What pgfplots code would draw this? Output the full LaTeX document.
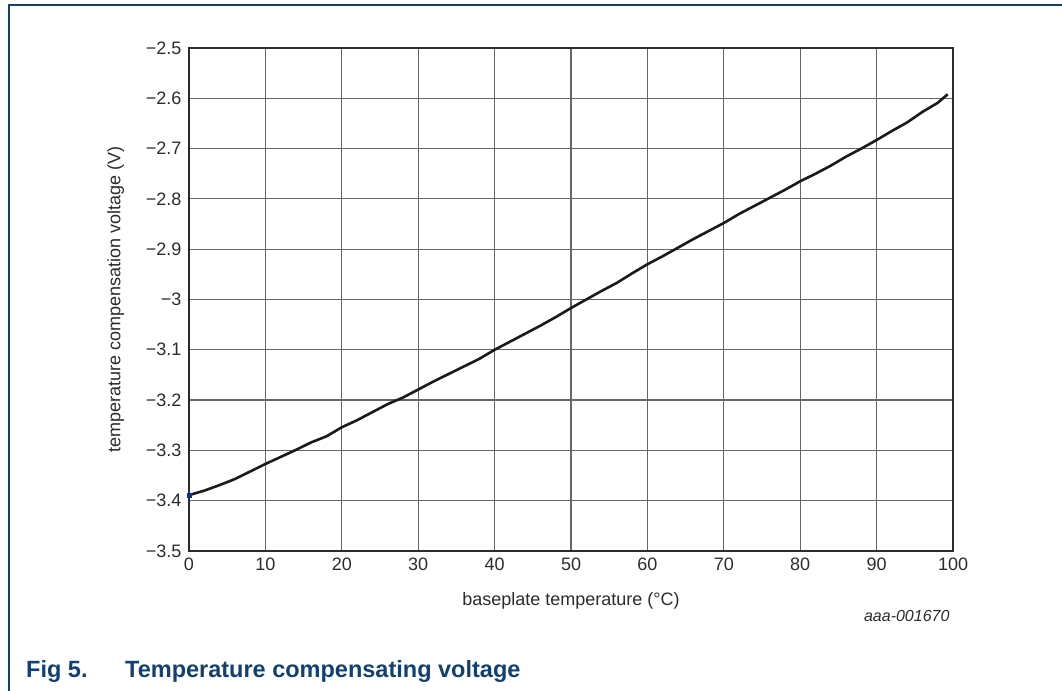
\documentclass[border=0pt]{standalone}
\usepackage{fontspec}
\setmainfont{Liberation Sans}
\usepackage{pgfplots}
\pgfplotsset{compat=1.18}

\definecolor{nxpblue}{HTML}{12406F}
\definecolor{ink}{HTML}{2B2B2B}
\definecolor{gridc}{HTML}{666666}

\begin{document}
\begin{tikzpicture}[x=1bp,y=1bp]
\useasboundingbox (0,0) rectangle (1062,691);
% outer frame (top and left only)
\draw[nxpblue, line width=1.4bp] (9,0) -- (9,686) -- (1062,686);

\begin{axis}[
    at={(189bp,140bp)}, anchor=south west,
    scale only axis, width=764bp, height=503bp,
    xmin=0, xmax=100, ymin=-3.5, ymax=-2.5,
    xtick={0,10,...,100},
    xticklabels={0,10,20,30,40,50,60,70,80,90,100},
    ytick={-3.5,-3.4,-3.3,-3.2,-3.1,-3,-2.9,-2.8,-2.7,-2.6,-2.5},
    yticklabels={−3.5,−3.4,−3.3,−3.2,−3.1,−3,−2.9,−2.8,−2.7,−2.6,−2.5},
    major tick length=0pt,
    grid=major,
    major grid style={gridc, line width=1.2bp},
    axis line style={ink, line width=2bp},
    tick label style={font=\fontsize{18bp}{21bp}\selectfont, text=ink},
    xticklabel style={yshift=-3bp},
    yticklabel style={xshift=-4bp},
    label style={font=\fontsize{18bp}{21bp}\selectfont, text=ink},
    xlabel={baseplate temperature (°C)},
    ylabel={temperature compensation voltage (V)},
    xlabel style={at={(axis description cs:0.5,-0.099)}, anchor=center},
    ylabel style={at={(axis description cs:-0.096,0.5)}, anchor=center},
    clip=false,
]
\addplot[ink!60!black, line width=2.6bp] coordinates {
(0,-3.389) (2,-3.380) (4,-3.369) (6,-3.357) (8,-3.342) (10,-3.327)
(12,-3.313) (14,-3.299) (16,-3.284) (18,-3.272) (20,-3.254) (22,-3.240)
(24,-3.224) (26,-3.208) (28,-3.195) (30,-3.179) (32,-3.163) (34,-3.148)
(36,-3.133) (38,-3.118) (40,-3.100) (42,-3.084) (44,-3.068) (46,-3.052)
(48,-3.035) (50,-3.017) (52,-3.000) (54,-2.983) (56,-2.967) (58,-2.948)
(60,-2.930) (62,-2.914) (64,-2.897) (66,-2.880) (68,-2.864) (70,-2.848)
(72,-2.830) (74,-2.814) (76,-2.798) (78,-2.782) (80,-2.765) (82,-2.750)
(84,-2.734) (86,-2.716) (88,-2.700) (90,-2.683) (92,-2.665) (94,-2.648)
(96,-2.627) (98,-2.609) (99.3,-2.592)
};
\addplot[only marks, mark=square*, mark size=2bp, color=nxpblue!70!blue] coordinates {(0,-3.389)};
\end{axis}

\node[anchor=base east, font=\fontsize{16bp}{19bp}\selectfont\itshape, text=ink] at (953,69) {aaa-001670};
\node[anchor=base west, font=\fontsize{23.5bp}{27bp}\selectfont\bfseries, text=nxpblue, inner sep=0pt] at (26,13) {Fig 5.};
\node[anchor=base west, font=\fontsize{23.5bp}{27bp}\selectfont\bfseries, text=nxpblue, inner sep=0pt] at (125,13) {Temperature compensating voltage};
\end{tikzpicture}
\end{document}
